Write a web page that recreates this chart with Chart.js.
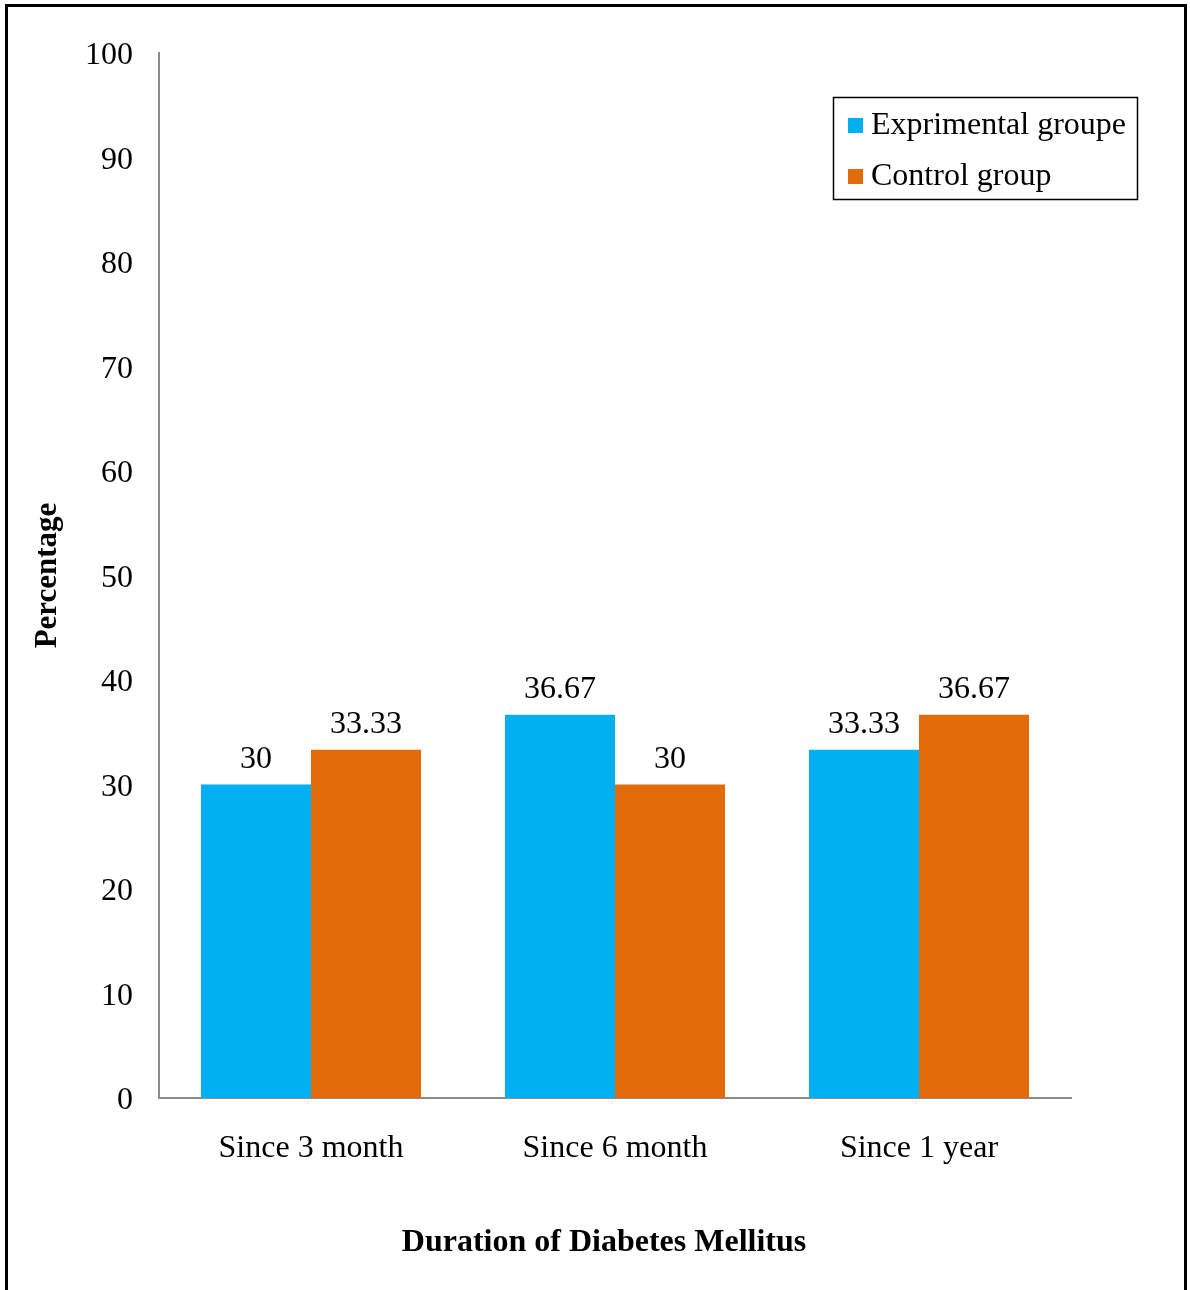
<!DOCTYPE html>
<html>
<head>
<meta charset="utf-8">
<script src="https://cdn.jsdelivr.net/npm/chart.js@4.4.0/dist/chart.umd.min.js"></script>
<style>
  html, body { margin: 0; padding: 0; background: #fff; }
  #wrap { width: 1190px; height: 1290px; }
</style>
</head>
<body>
<div id="wrap"><canvas id="c" width="1190" height="1290"></canvas></div>
<script>
// Duration of diabetes mellitus, percentage per group
const categories = ['Since 3 month', 'Since 6 month', 'Since 1 year'];
const experimentalValues = [30, 36.67, 33.33];
const controlValues = [33.33, 30, 36.67];
const seriesNames = ['Exprimental groupe', 'Control group'];
const yTicks = [0, 10, 20, 30, 40, 50, 60, 70, 80, 90, 100];
const xTitle = 'Duration of Diabetes Mellitus';

const SERIF = '"Liberation Serif", "Times New Roman", serif';
const BLUE = '#00B0F0';
const ORANGE = '#E36C0A';

// Outer frame around the figure
const framePlugin = {
  id: 'frame',
  afterDraw(chart) {
    const ctx = chart.ctx;
    ctx.save();
    ctx.strokeStyle = '#000';
    ctx.lineWidth = 3;
    ctx.beginPath();
    ctx.moveTo(6.5, 1300);
    ctx.lineTo(6.5, 5.5);
    ctx.lineTo(1185.5, 5.5);
    ctx.lineTo(1185.5, 1300);
    ctx.stroke();
    ctx.restore();
  }
};

// Horizontal axis title, centred on the whole figure
const xTitlePlugin = {
  id: 'xTitle',
  afterDraw(chart) {
    const ctx = chart.ctx;
    ctx.save();
    ctx.font = 'bold 32px ' + SERIF;
    ctx.fillStyle = '#000';
    ctx.textAlign = 'center';
    ctx.textBaseline = 'middle';
    ctx.fillText(xTitle, 604, 1243);
    ctx.restore();
  }
};

// Value labels above every bar
const valueLabels = {
  id: 'valueLabels',
  afterDatasetsDraw(chart) {
    const ctx = chart.ctx;
    ctx.save();
    ctx.font = '32px ' + SERIF;
    ctx.fillStyle = '#000';
    ctx.textAlign = 'center';
    ctx.textBaseline = 'alphabetic';
    chart.data.datasets.forEach((ds, i) => {
      chart.getDatasetMeta(i).data.forEach((bar, j) => {
        ctx.fillText(String(ds.data[j]), bar.x, bar.y - 17);
      });
    });
    ctx.restore();
  }
};

// Boxed legend in the upper right of the plot
const boxLegend = {
  id: 'boxLegend',
  afterDraw(chart) {
    const ctx = chart.ctx;
    const x0 = 833, y0 = 97, w = 304, h = 102;
    ctx.save();
    ctx.strokeStyle = '#000';
    ctx.lineWidth = 1.5;
    ctx.strokeRect(x0 + 0.5, y0 + 0.5, w, h);
    ctx.font = '32px ' + SERIF;
    ctx.textBaseline = 'middle';
    ctx.textAlign = 'left';
    const rows = [125, 176];
    chart.data.datasets.forEach((ds, i) => {
      const cy = rows[i];
      ctx.fillStyle = ds.backgroundColor;
      ctx.fillRect(848, cy - 7, 15, 15);
      ctx.fillStyle = '#000';
      ctx.fillText(ds.label, 871, cy + 1);
    });
    ctx.restore();
  }
};

new Chart(document.getElementById('c'), {
  type: 'bar',
  data: {
    labels: categories,
    datasets: [
      { label: seriesNames[0], data: experimentalValues, backgroundColor: BLUE },
      { label: seriesNames[1], data: controlValues, backgroundColor: ORANGE }
    ]
  },
  options: {
    responsive: false,
    animation: false,
    layout: { padding: { left: 0, top: 53, right: 119, bottom: 0 } },
    datasets: { bar: { categoryPercentage: 0.7237, barPercentage: 1.0 } },
    plugins: { legend: { display: false }, tooltip: { enabled: false } },
    scales: {
      x: {
        grid: { display: false, drawTicks: false },
        border: { display: true, color: '#8c8c8c', width: 2 },
        ticks: { color: '#000', font: { family: SERIF, size: 32 }, padding: 31 },
        afterFit(scale) { scale.height = 192; }
      },
      y: {
        min: 0,
        max: 100,
        afterBuildTicks(scale) { scale.ticks = yTicks.map(v => ({ value: v })); },
        grid: { display: false, drawTicks: false },
        border: { display: true, color: '#8c8c8c', width: 2 },
        ticks: { color: '#000', font: { family: SERIF, size: 32 }, padding: 26, labelOffset: 3 },
        title: {
          display: true,
          text: 'Percentage',
          color: '#000',
          font: { family: SERIF, size: 31, weight: 'bold' },
          padding: { top: 29, bottom: 0 }
        },
        afterFit(scale) { scale.width = 159; }
      }
    }
  },
  plugins: [valueLabels, boxLegend, xTitlePlugin, framePlugin]
});
</script>
</body>
</html>
